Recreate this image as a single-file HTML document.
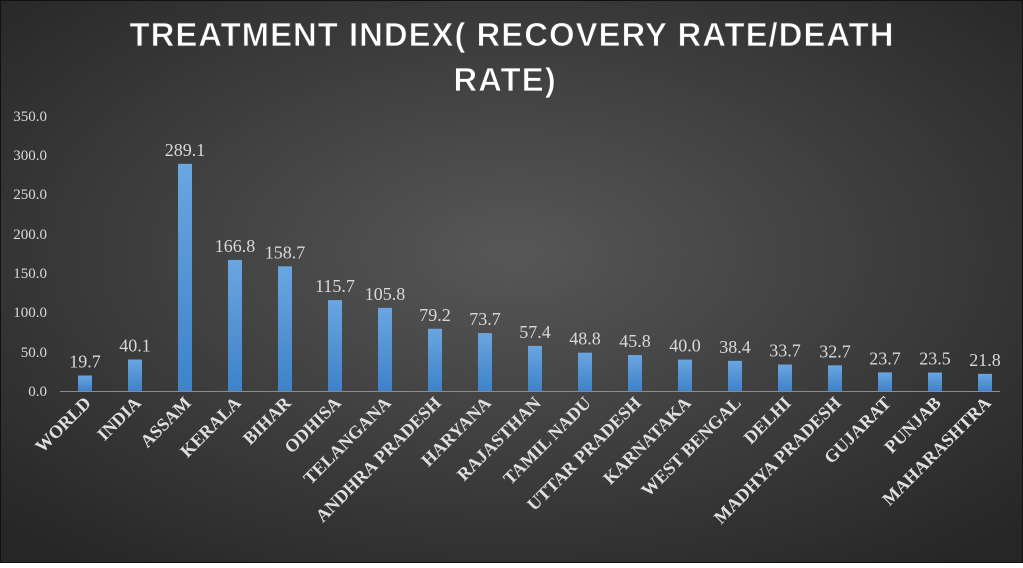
<!DOCTYPE html>
<html><head><style>
html,body{margin:0;padding:0;}
body{width:1023px;height:563px;overflow:hidden;}
</style></head><body>
<svg width="1023" height="563" xmlns="http://www.w3.org/2000/svg">
<defs>
<radialGradient id="bg" cx="50%" cy="45%" r="70%">
<stop offset="0" stop-color="#575757"/>
<stop offset="1" stop-color="#262626"/>
</radialGradient>
<linearGradient id="bar" x1="0" y1="0" x2="0" y2="1">
<stop offset="0" stop-color="#6aa6e0"/>
<stop offset="1" stop-color="#3e82c8"/>
</linearGradient>
</defs>
<rect x="0" y="0" width="1023" height="563" fill="url(#bg)"/>
<rect x="0.5" y="0.5" width="1022" height="562" fill="none" stroke="#111" stroke-width="1"/>
<g font-family="'Liberation Sans',sans-serif" font-weight="bold" font-size="33" fill="#fff" text-anchor="middle" stroke="#444" stroke-width="0.8" letter-spacing="1">
<text x="512" y="46" textLength="765" lengthAdjust="spacingAndGlyphs">TREATMENT INDEX( RECOVERY RATE/DEATH</text>
<text x="505" y="91">RATE)</text>
</g>
<g font-family="'Liberation Serif',serif" font-size="15" fill="#d9d9d9" text-anchor="end">
<text x="47" y="396">0.0</text>
<text x="47" y="357">50.0</text>
<text x="47" y="317">100.0</text>
<text x="47" y="278">150.0</text>
<text x="47" y="239">200.0</text>
<text x="47" y="199">250.0</text>
<text x="47" y="160">300.0</text>
<text x="47" y="121">350.0</text>
</g>
<line x1="60" y1="391.5" x2="1000" y2="391.5" stroke="#8c8c8c" stroke-width="1"/>
<g id="bars"></g>
<g id="vals" font-family="'Liberation Serif',serif" font-size="18" fill="#d9d9d9" text-anchor="middle"></g>
<g id="cats" font-family="'Liberation Serif',serif" font-size="18" font-weight="bold" fill="#e0e0e0" text-anchor="end"></g>
</svg>
<script>
var d=[["WORLD",19.7],["INDIA",40.1],["ASSAM",289.1],["KERALA",166.8],["BIHAR",158.7],["ODHISA",115.7],["TELANGANA",105.8],["ANDHRA PRADESH",79.2],["HARYANA",73.7],["RAJASTHAN",57.4],["TAMIL NADU",48.8],["UTTAR PRADESH",45.8],["KARNATAKA",40.0],["WEST BENGAL",38.4],["DELHI",33.7],["MADHYA PRADESH",32.7],["GUJARAT",23.7],["PUNJAB",23.5],["MAHARASHTRA",21.8]];
var ns="http://www.w3.org/2000/svg",B=document.getElementById("bars"),V=document.getElementById("vals"),C=document.getElementById("cats");
d.forEach(function(e,i){var cx=85+50*i,h=e[1]*275/350,y=391-h;
var r=document.createElementNS(ns,"rect");r.setAttribute("x",cx-7);r.setAttribute("y",y);r.setAttribute("width",14);r.setAttribute("height",h);r.setAttribute("fill","url(#bar)");B.appendChild(r);
var t=document.createElementNS(ns,"text");t.setAttribute("x",cx);t.setAttribute("y",y-8);t.textContent=e[1].toFixed(1);V.appendChild(t);
var c=document.createElementNS(ns,"text");c.setAttribute("transform","translate("+(cx+7)+",404) rotate(-45)");c.textContent=e[0];C.appendChild(c);});
</script>
</body></html>
